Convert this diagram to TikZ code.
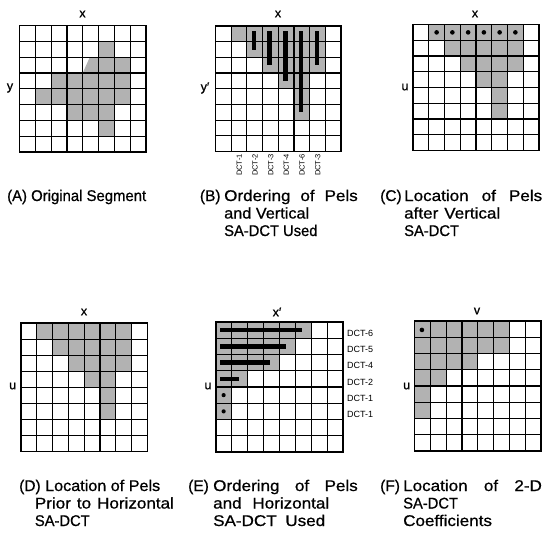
\documentclass[tikz,border=0pt]{standalone}
\usepackage{fontspec}
\setmainfont{Liberation Sans}
\newfontfamily\capfont[FakeBold=0.7]{Liberation Sans}
\newfontfamily\lblfont[FakeBold=0.8]{Liberation Sans}
\tikzset{
  pel/.style={fill=black!30, draw=none},
  gridln/.style={line width=1.2pt, line cap=rect},
  pelbar/.style={line width=4.4pt},
  axislbl/.style={font=\lblfont\fontsize{12.5}{12.5}\selectfont, inner sep=0pt},
  caplbl/.style={font=\capfont\fontsize{15.5}{18}\selectfont, inner sep=0pt, anchor=base west},
  dctv/.style={font=\fontsize{7.5}{8}\selectfont, inner sep=0pt, rotate=90, anchor=east},
  dcth/.style={font=\fontsize{9}{9}\selectfont, inner sep=0pt, anchor=west},
}
\newcommand\pelgridlines{\foreach \k in {0,...,8}{\draw[gridln] (\k,0) -- (\k,8); \draw[gridln] (0,\k) -- (8,\k);}}
\newcommand\pelcell[2]{\fill[pel] (#1,#2) rectangle ++(1,1);}
\newlength\caplw
\newcommand\capl[2]{\settowidth\caplw{#2}%
  \pgfmathsetmacro\caplf{max(min(#1/\caplw,1.1),0.95)}%
  \pgfmathsetmacro\caplr{max(#1/\caplf,\caplw)}%
  \scalebox{\caplf}[1]{\makebox[\caplr pt][s]{#2}}}
\begin{document}
\begin{tikzpicture}[x=1pt,y=-1pt]
\useasboundingbox (0,0) rectangle (544,543);
\fill[white] (0,0) rectangle (544,543);

% ---------- A ----------
\begin{scope}[shift={(19.5,25.5)}, x=15.81pt, y=-15.81pt]
  \fill[pel] (5,1) -- (6,1) -- (6,2) -- (7,2) -- (7,5) -- (6,5) -- (6,7) -- (5,7) -- (5,6) -- (3,6) -- (3,5) -- (1,5) -- (1,4) -- (2,4) -- (2,3.05) -- (4,3) -- (4.45,2) -- (5,2) -- cycle;
  \pelgridlines
\end{scope}
\node[axislbl] (ax) at (82.5,14) {x};
\node[axislbl] (ay) at (10,88) {y};

% ---------- B ----------
\begin{scope}[shift={(215.5,26)}, x=15.69pt, y=-15.69pt]
  \foreach \c/\r in {1/0,2/0,2/1,3/0,3/1,3/2,4/0,4/1,4/2,4/3,5/0,5/1,5/2,5/3,5/4,5/5,6/0,6/1,6/2} {\pelcell{\c}{\r}}
  \pelgridlines
  \draw[pelbar] (2.45,0.32) -- (2.45,1.5);
  \draw[pelbar] (3.45,0.32) -- (3.45,2.5);
  \draw[pelbar] (4.45,0.32) -- (4.45,3.5);
  \draw[pelbar] (5.45,0.32) -- (5.45,5.5);
  \draw[pelbar] (6.45,0.32) -- (6.45,2.5);
\end{scope}
\node[axislbl] (bx) at (278,14) {x};
\node[axislbl] (by) at (205,88) {y′};
\node[dctv] (bd1) at (239.2,154) {DCT-1};
\node[dctv] (bd2) at (255.0,154) {DCT-2};
\node[dctv] (bd3) at (270.7,154) {DCT-3};
\node[dctv] (bd4) at (286.4,154) {DCT-4};
\node[dctv] (bd5) at (302.1,154) {DCT-6};
\node[dctv] (bd6) at (317.8,154) {DCT-3};

% ---------- C ----------
\begin{scope}[shift={(413,24.5)}, x=15.75pt, y=-15.75pt]
  \foreach \c/\r in {1/0,2/0,3/0,4/0,5/0,6/0,2/1,3/1,4/1,5/1,6/1,3/2,4/2,5/2,6/2,4/3,5/3,5/4,5/5} {\pelcell{\c}{\r}}
  \pelgridlines
  \foreach \c in {1,...,6} {\fill (\c+0.5,0.5) circle (2.3pt);}
\end{scope}
\node[axislbl] (cx) at (475,14) {x};
\node[axislbl] (cu) at (405,87) {u};

% ---------- D ----------
\begin{scope}[shift={(21,323)}, x=15.81pt, y=-16.1pt]
  \foreach \c/\r in {1/0,2/0,3/0,4/0,5/0,6/0,2/1,3/1,4/1,5/1,6/1,3/2,4/2,5/2,6/2,4/3,5/3,5/4,5/5} {\pelcell{\c}{\r}}
  \pelgridlines
\end{scope}
\node[axislbl] (dx) at (84,312) {x};
\node[axislbl] (du) at (12.7,386) {u};

% ---------- E ----------
\begin{scope}[shift={(216,322)}, x=15.875pt, y=-16.25pt]
  \foreach \c/\r in {0/0,1/0,2/0,3/0,4/0,5/0,0/1,1/1,2/1,3/1,4/1,0/2,1/2,2/2,3/2,0/3,1/3,0/4,0/5} {\pelcell{\c}{\r}}
  \pelgridlines
  \draw[pelbar] (0.28,0.5) -- (5.43,0.5);
  \draw[pelbar] (0.28,1.5) -- (4.43,1.5);
  \draw[pelbar] (0.28,2.5) -- (3.43,2.5);
  \draw[pelbar] (0.28,3.5) -- (1.48,3.5);
  \fill (0.48,4.5) circle (2.1pt);
  \fill (0.48,5.5) circle (2.1pt);
\end{scope}
\node[axislbl] (ex) at (277,312) {x′};
\node[axislbl] (eu) at (208,386) {u};
\node[dcth] (ed1) at (347,333) {DCT-6};
\node[dcth] (ed2) at (347,349.3) {DCT-5};
\node[dcth] (ed3) at (347,365.6) {DCT-4};
\node[dcth] (ed4) at (347,381.9) {DCT-2};
\node[dcth] (ed5) at (347,398.2) {DCT-1};
\node[dcth] (ed6) at (347,414.5) {DCT-1};

% ---------- F ----------
\begin{scope}[shift={(414.5,321)}, x=15.81pt, y=-16.25pt]
  \foreach \c/\r in {0/0,1/0,2/0,3/0,4/0,5/0,0/1,1/1,2/1,3/1,4/1,5/1,0/2,1/2,2/2,3/2,0/3,1/3,0/4,0/5} {\pelcell{\c}{\r}}
  \pelgridlines
  \fill (0.47,0.55) circle (2.3pt);
\end{scope}
\node[axislbl] (fv) at (477,311) {v};
\node[axislbl] (fu) at (406.7,386) {u};

% ---------- captions ----------
\node[caplbl] (capA) at (7,201) {\capl{139}{(A) Original Segment}};
\node[caplbl] (capB0) at (199.7,201) {(B)};
\node[caplbl] (capB1) at (224,201) {\capl{133.6}{Ordering of Pels}};
\node[caplbl] (capB2) at (224,218.5) {\capl{85}{and Vertical}};
\node[caplbl] (capB3) at (224,236) {\capl{90}{SA-DCT Used}};
\node[caplbl] (capC0) at (380,201) {(C)};
\node[caplbl] (capC1) at (404,201) {\capl{138}{Location of Pels}};
\node[caplbl] (capC2) at (404,218.5) {\capl{96}{after Vertical}};
\node[caplbl] (capC3) at (404,236) {\capl{49}{SA-DCT}};

\node[caplbl] (capD0) at (19,491) {(D)};
\node[caplbl] (capD1) at (45,491) {\capl{115}{Location of Pels}};
\node[caplbl] (capD2) at (34.7,508.5) {\capl{139}{Prior to Horizontal}};
\node[caplbl] (capD3) at (34.7,526) {\capl{52}{SA-DCT}};
\node[caplbl] (capE0) at (188,491) {(E)};
\node[caplbl] (capE1) at (213,491) {\capl{144.6}{Ordering of Pels}};
\node[caplbl] (capE2) at (213,508.5) {\capl{116}{and Horizontal}};
\node[caplbl] (capE3) at (213,526) {\capl{112}{SA-DCT Used}};
\node[caplbl] (capF0) at (380,491) {(F)};
\node[caplbl] (capF1) at (403,491) {\capl{138.7}{Location of 2-D}};
\node[caplbl] (capF2) at (403,508.5) {\capl{50}{SA-DCT}};
\node[caplbl] (capF3) at (403,526) {\capl{104}{Coefficients}};
\end{tikzpicture}
\end{document}
